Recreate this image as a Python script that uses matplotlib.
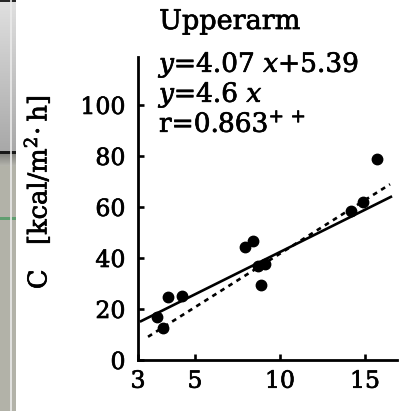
import numpy as np
import matplotlib
matplotlib.use("Agg")
import matplotlib.pyplot as plt
import matplotlib.patheffects as pe

plt.rcParams['font.family'] = ['DejaVu Serif']
plt.rcParams['mathtext.fontset'] = 'dejavuserif'

# data (x axis origin is labelled "3")
x_pts = [2.76, 3.12, 3.41, 4.24, 7.94, 8.41, 8.70, 9.10, 8.88, 14.18, 14.88, 15.70]
y_pts = [16.9, 12.5, 24.7, 25.1, 44.3, 46.7, 36.9, 37.6, 29.4, 58.4, 62.0, 78.8]

# regression lines as drawn in the figure
solid_x = [1.76, 16.59]
solid_y = [15.0, 64.2]
dashed_x = [2.24, 16.47]
dashed_y = [9.1, 68.9]

x_lim = (1.65, 16.88)
y_lim = (0, 118.8)
x_ticks = [x_lim[0], 5, 10, 15]
x_ticklabels = ['3', '5', '10', '15']
y_ticks = [0, 20, 40, 60, 80, 100]

title = 'Upperarm'
eq_lines = [r'$y$=4.07 $x$+5.39', r'$y$=4.6 $x$', r'r=0.863$^{+\,+}$']
ylabel = r'C   [kcal/m$^2\!\cdot$h]'

# slightly heavier strokes, like the printed scan
ink = [pe.withStroke(linewidth=0.5, foreground='black')]

W, H = 414, 411
fig = plt.figure(figsize=(W / 100, H / 100), dpi=100)
fig.patch.set_facecolor('white')

# grey screen strip on the left edge of the scan
strip = fig.add_axes([0, 0, 16 / W, 1])
col = np.ones((H, 1, 3))
top = np.linspace(0.88, 0.66, 152)
col[:152, 0, :] = top[:, None]
col[:3, 0, :] = 0.15
col[152:155, 0, :] = 0.1
low = np.linspace(0.52, 0.70, 12)
col[155:167, 0, :] = low[:, None] * np.array([1.0, 1.0, 0.96])
col[167:, 0, :] = np.array([0.70, 0.70, 0.66])
col[217:220, 0, :] = np.array([0.38, 0.62, 0.44])
strip.imshow(col, aspect='auto', interpolation='nearest')
strip.axvline(0.2, color='0.92', lw=1.2)
strip.set_axis_off()

ax = fig.add_axes([138 / W, 1 - 360 / H, (397 - 138) / W, (360 - 57) / H])
ax.plot(solid_x, solid_y, color='black', lw=1.9, solid_capstyle='butt')
ax.plot(dashed_x, dashed_y, color='black', lw=1.9, dashes=(1.8, 1.8))
ax.plot(x_pts, y_pts, 'o', color='black', markersize=7.5)

ax.set_xlim(*x_lim)
ax.set_ylim(*y_lim)
ax.set_xticks(x_ticks)
ax.set_xticklabels(x_ticklabels)
ax.set_yticks(y_ticks)
for s in ['top', 'right']:
    ax.spines[s].set_visible(False)
for s in ['left', 'bottom']:
    ax.spines[s].set_linewidth(2.0)
ax.tick_params(direction='in', length=4, width=1.9, labelsize=17)
ax.tick_params(axis='y', pad=9)
ax.tick_params(axis='x', pad=7)
for lab in ax.get_xticklabels() + ax.get_yticklabels():
    lab.set_path_effects(ink)

fig.text(230 / W, 1 - 29 / H, title, fontsize=19.5, ha='center',
         va='baseline', path_effects=ink)
for i, line in enumerate(eq_lines):
    fig.text(159 / W, 1 - (72 + 30 * i) / H, line, fontsize=19,
             ha='left', va='baseline', path_effects=ink)
fig.text(37 / W, 1 - 192 / H, ylabel, fontsize=18.5, rotation=90,
         ha='center', va='center', path_effects=ink)

fig.savefig('out.png', dpi=100)
